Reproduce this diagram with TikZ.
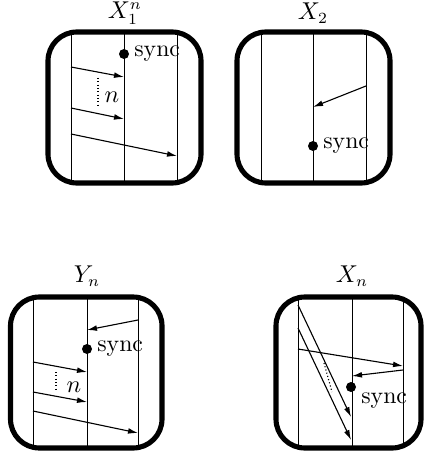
\documentclass[tikz,border=0pt]{standalone}
\usetikzlibrary{arrows.meta}
\begin{document}
\begin{tikzpicture}[x=0.45pt,y=-0.45pt,
 font=\fontsize{10.7}{13}\selectfont,
 frame/.style={line width=2.3pt, rounded corners=13pt},
 life/.style={line width=0.45pt},
 msg/.style={line width=0.5pt, -{Latex[length=4.5pt,width=2.6pt]}},
 dotline/.style={densely dotted, line width=0.5pt},
 syncdot/.style={circle, fill, inner sep=0pt, minimum size=4.5pt},
 synclbl/.style={anchor=west, inner sep=2pt},
 title/.style={inner sep=0pt}]
\useasboundingbox (0,0) rectangle (424,456);

% ---------- Box 1: X_1^n ----------
\node[title] (t1) at (125,13) {$X_1^n$};
\foreach \x/\n in {71/a,124/b,177/c}{
  \coordinate (p1\n) at (\x,32); \coordinate (q1\n) at (\x,183);
  \draw[life] (p1\n) -- (q1\n);}
\draw[frame] (48,32) rectangle (201,183);
\node[syncdot] (s1) at (124,54) {};
\node[synclbl] (sl1) at (s1.east) {sync};
\coordinate (m1a) at (71,67);  \coordinate (n1a) at (124,77);
\coordinate (m1b) at (71,108); \coordinate (n1b) at (124,119);
\coordinate (m1c) at (71,134); \coordinate (n1c) at (177,156);
\draw[msg] (m1a) -- (n1a);
\draw[msg] (m1b) -- (n1b);
\draw[msg] (m1c) -- (n1c);
\coordinate (d1a) at (98,78); \coordinate (d1b) at (98,107);
\draw[dotline] (d1a) -- (d1b);
\node[title] (nl1) at (112,97) {$n$};

% ---------- Box 2: X_2 ----------
\node[title] (t2) at (313,13) {$X_2$};
\foreach \x/\n in {261/a,313/b,366/c}{
  \coordinate (p2\n) at (\x,32); \coordinate (q2\n) at (\x,183);
  \draw[life] (p2\n) -- (q2\n);}
\draw[frame] (237,32) rectangle (390,183);
\coordinate (m2a) at (366,86); \coordinate (n2a) at (313,107);
\draw[msg] (m2a) -- (n2a);
\node[syncdot] (s2) at (313,146) {};
\node[synclbl] (sl2) at (s2.east) {sync};

% ---------- Box 3: Y_n ----------
\node[title] (t3) at (87,276) {$Y_n$};
\foreach \x/\n in {33/a,87/b,138/c}{
  \coordinate (p3\n) at (\x,297); \coordinate (q3\n) at (\x,448);
  \draw[life] (p3\n) -- (q3\n);}
\draw[frame] (10.5,297) rectangle (162,448);
\coordinate (m3a) at (138,320); \coordinate (n3a) at (87,330);
\draw[msg] (m3a) -- (n3a);
\node[syncdot] (s3) at (87,349) {};
\node[synclbl] (sl3) at (s3.east) {sync};
\coordinate (m3b) at (33,362); \coordinate (n3b) at (87,372);
\coordinate (m3c) at (33,392); \coordinate (n3c) at (87,402);
\coordinate (m3d) at (33,411); \coordinate (n3d) at (138,433);
\draw[msg] (m3b) -- (n3b);
\draw[msg] (m3c) -- (n3c);
\draw[msg] (m3d) -- (n3d);
\coordinate (d3a) at (56,372); \coordinate (d3b) at (56,392);
\draw[dotline] (d3a) -- (d3b);
\node[title] (nl3) at (74,387) {$n$};

% ---------- Box 4: X_n ----------
\node[title] (t4) at (352,276) {$X_n$};
\foreach \x/\n in {298/a,352/b,403/c}{
  \coordinate (p4\n) at (\x,297); \coordinate (q4\n) at (\x,448);
  \draw[life] (p4\n) -- (q4\n);}
\draw[frame] (276,297) rectangle (421,448);
\coordinate (m4a) at (298,305); \coordinate (n4a) at (351,417);
\coordinate (m4b) at (298,328); \coordinate (n4b) at (351,440);
\coordinate (m4c) at (298,349); \coordinate (n4c) at (403,366);
\coordinate (m4d) at (403,370); \coordinate (n4d) at (352,376);
\draw[msg] (m4a) -- (n4a);
\draw[msg] (m4b) -- (n4b);
\draw[msg] (m4c) -- (n4c);
\draw[msg] (m4d) -- (n4d);
\coordinate (d4a) at (324,363); \coordinate (d4b) at (332,392);
\draw[dotline] (d4a) -- (d4b);
\node[syncdot] (s4) at (351,387) {};
\node[synclbl, anchor=north west] (sl4) at ([yshift=-0.5pt]s4.east) {sync};
\end{tikzpicture}
\end{document}
